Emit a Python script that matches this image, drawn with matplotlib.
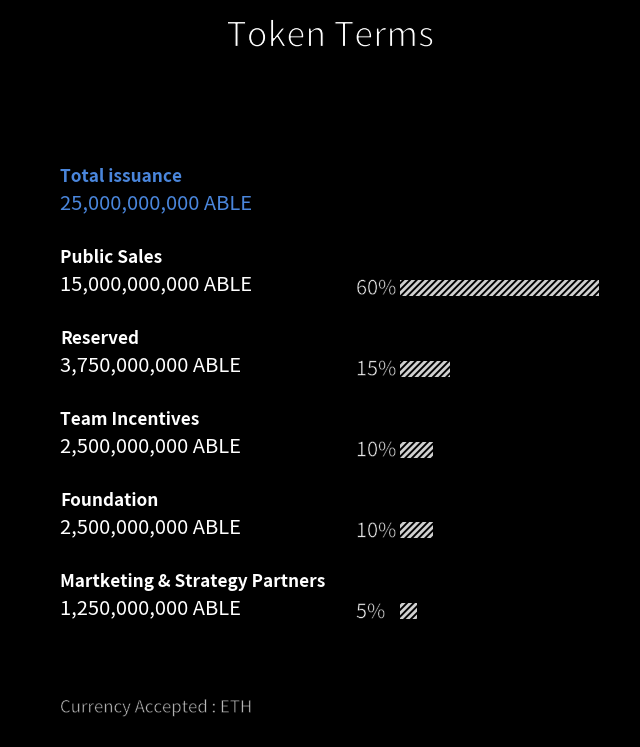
import matplotlib
matplotlib.use("Agg")
import matplotlib.pyplot as plt
import matplotlib.patheffects as pe

plt.rcParams['font.family'] = ['Noto Sans CJK SC', 'DejaVu Sans']
plt.rcParams['hatch.linewidth'] = 2.0
plt.rcParams['hatch.color'] = '#d0d0d0'

title = "Token Terms"
total_label = "Total issuance"
total_value = "25,000,000,000 ABLE"
categories = ["Public Sales", "Reserved", "Team Incentives", "Foundation",
              "Martketing & Strategy Partners"]
amounts = ["15,000,000,000 ABLE", "3,750,000,000 ABLE", "2,500,000,000 ABLE",
           "2,500,000,000 ABLE", "1,250,000,000 ABLE"]
percents = [60, 15, 10, 10, 5]
footer = "Currency Accepted : ETH"

W, H = 640, 747
fig = plt.figure(figsize=(W / 100, H / 100), dpi=100, facecolor='black')

tx = fig.add_axes([0, 0, 1, 1])
tx.set_xlim(0, W)
tx.set_ylim(H, 0)
tx.axis('off')
tx.set_facecolor('black')

thin = [pe.Stroke(linewidth=0.9, foreground='black')]
thin_s = [pe.Stroke(linewidth=0.35, foreground='black')]

blue = '#4a86dc'
tx.text(330, 37, title, color='white', fontsize=24.6, fontweight='regular',
        ha='center', va='center', path_effects=thin)
tx.text(60, 177, total_label, color=blue, fontsize=12.4, fontweight='bold',
        ha='left', va='center')
tx.text(60, 204, total_value, color=blue, fontsize=14.5, fontweight='regular',
        ha='left', va='center')

label_y0, step = 258, 80.9
for i, (c, a, p) in enumerate(zip(categories, amounts, percents)):
    y = label_y0 + step * i
    tx.text(60, y, c, color='white', fontsize=12.4, fontweight='bold',
            ha='left', va='center')
    tx.text(60, y + 27, a, color='white', fontsize=14.5, fontweight='regular',
            ha='left', va='center')
    tx.text(356, y + 31, f"{p}%", color='#f0f0f0', fontsize=14.3,
            fontweight='regular', ha='left', va='center', path_effects=thin_s)

tx.text(60, 708, footer, color='#bfbfbf', fontsize=12.1, fontweight='regular',
        ha='left', va='center', path_effects=thin_s)

bar_c0 = 288.0
bstep = 80.75
top_px = bar_c0 - bstep / 2
bot_px = bar_c0 + bstep * 4.5
left_px, width_px = 400, 199
bx = fig.add_axes([left_px / W, 1 - bot_px / H, width_px / W, (bot_px - top_px) / H])
bx.set_xlim(0, 60)
bx.set_ylim(4.5, -0.5)
bx.axis('off')
bx.patch.set_alpha(0)
bx.barh(range(len(percents)), percents, height=16 / bstep, color='black',
        edgecolor='#d0d0d0', linewidth=0, hatch='/////')

fig.savefig("out.png", dpi=100, facecolor='black')
